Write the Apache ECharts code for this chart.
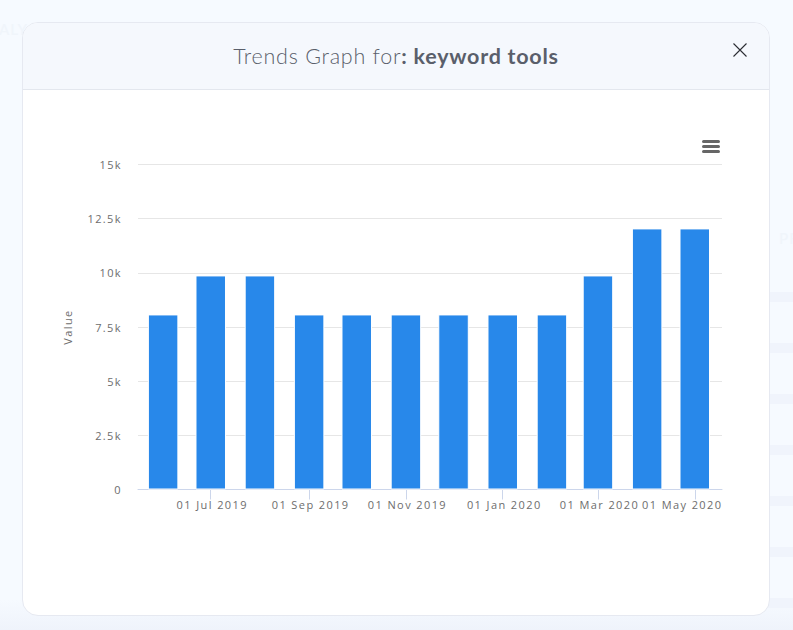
<!DOCTYPE html>
<html>
<head>
<meta charset="utf-8">
<title>Trends Graph</title>
<script src="https://cdn.jsdelivr.net/npm/echarts@6/dist/echarts.min.js"></script>
<style>
html, body { margin: 0; padding: 0; width: 793px; height: 630px; overflow: hidden; background: #f6faff; }
.bottom { position: absolute; left: 0; top: 600px; width: 793px; height: 30px; background: linear-gradient(#f6faff, #eff3fb); }
.pill { position: absolute; left: 760px; width: 40px; height: 10px; border-radius: 5px; background: #f0f4fc; }
.ghost { position: absolute; font: 600 15px Lato, sans-serif; letter-spacing: 1px; color: #f0f5fb; }
.card { position: absolute; left: 22px; top: 22px; width: 748px; height: 594px; box-sizing: border-box; background: #fff;
	border: 1px solid #e6e9f1; border-radius: 16px; overflow: hidden; }
.head { height: 67px; box-sizing: border-box; background: #f5f8fd; border-bottom: 1px solid #e3e7ee; text-align: center;
	font: 300 21.5px/67px Lato, sans-serif; letter-spacing: 0.75px; color: #5a5f6b; }
.head b { font-weight: 700; }
.close { position: absolute; left: 733px; top: 43px; }
#chart { position: absolute; left: 0; top: 0; width: 793px; height: 630px; }
#chart text { letter-spacing: 1.4px; }
</style>
</head>
<body>
<div class="bottom"></div>
<div class="ghost" style="left:-1px;top:20px">ALY</div>
<div class="ghost" style="left:779px;top:229px">PR</div>
<div class="pill" style="top:292px"></div>
<div class="pill" style="top:343px"></div>
<div class="pill" style="top:394px"></div>
<div class="pill" style="top:445px"></div>
<div class="pill" style="top:496px"></div>
<div class="pill" style="top:547px"></div>
<div class="pill" style="top:598px"></div>
<div class="card">
	<div class="head">Trends Graph for<b>: keyword tools</b></div>
</div>
<svg class="close" width="14" height="14" viewBox="0 0 14 14">
	<path d="M0.5 0.5L13.5 13.5M13.5 0.5L0.5 13.5" stroke="#2b2d33" stroke-width="1.1" fill="none"/>
</svg>
<div id="chart"></div>
<script>
var trend = [
	[new Date(2019, 5, 1), 8080],
	[new Date(2019, 6, 1), 9880],
	[new Date(2019, 7, 1), 9880],
	[new Date(2019, 8, 1), 8080],
	[new Date(2019, 9, 1), 8080],
	[new Date(2019, 10, 1), 8080],
	[new Date(2019, 11, 1), 8080],
	[new Date(2020, 0, 1), 8080],
	[new Date(2020, 1, 1), 8080],
	[new Date(2020, 2, 1), 9880],
	[new Date(2020, 3, 1), 12050],
	[new Date(2020, 4, 1), 12050]
];

var seriesData = trend.map(function (row) {
	return [row[0].getTime(), row[1]];
});

// labelled months, every second one
var tickDates = [];
for (var i = 1; i < trend.length; i += 2) {
	tickDates.push(trend[i][0].getTime());
}
var lastTick = tickDates[tickDates.length - 1];
var labelStyle = { fontFamily: "'Open Sans', sans-serif", fontSize: 11, color: "#6d6d6d" };

var chart = echarts.init(document.getElementById("chart"), null, { renderer: "svg" });

chart.setOption({
	animation: false,
	grid: { left: 138, right: 71, top: 164.5, bottom: 140.5 },
	// value axis on timestamps: the time axis fails on customValues
	xAxis: {
		type: "value",
		scale: true,
		min: new Date(2019, 4, 16, 4).getTime(),
		max: new Date(2020, 4, 18, 4).getTime(),
		splitLine: { show: false },
		axisLine: { lineStyle: { color: "#ccd6eb", width: 1 } },
		axisTick: { show: true, customValues: tickDates, length: 10, lineStyle: { color: "#ccd6eb" } },
		axisLabel: {
			customValues: tickDates,
			hideOverlap: false,
			margin: 9,
			fontFamily: labelStyle.fontFamily,
			fontSize: labelStyle.fontSize,
			color: labelStyle.color,
			formatter: function (value) {
				var text = echarts.time.format(value, "{dd} {MMM} {yyyy}");
				// last label is pulled back inside the plot
				return value === lastTick ? "{last|" + text + "}" : "{month|" + text + "}";
			},
			rich: {
				month: {
					fontFamily: labelStyle.fontFamily,
					fontSize: labelStyle.fontSize,
					color: labelStyle.color,
					padding: [0, 0, 0, 3]
				},
				last: {
					fontFamily: labelStyle.fontFamily,
					fontSize: labelStyle.fontSize,
					color: labelStyle.color,
					padding: [0, 25, 0, 0]
				}
			}
		}
	},
	yAxis: {
		type: "value",
		min: 0,
		max: 15000,
		interval: 2500,
		name: "Value",
		nameLocation: "middle",
		nameGap: 65,
		nameTextStyle: labelStyle,
		axisLine: { show: false },
		axisTick: { show: false },
		splitLine: { lineStyle: { color: "#e6e6e6", width: 1 } },
		axisLabel: {
			margin: 16,
			fontFamily: labelStyle.fontFamily,
			fontSize: labelStyle.fontSize,
			color: labelStyle.color,
			formatter: function (value) {
				return value === 0 ? "0" : value / 1000 + "k";
			}
		}
	},
	series: [{
		name: "Value",
		type: "bar",
		barWidth: 30.5,
		data: seriesData,
		itemStyle: { color: "#2888ea", borderColor: "#fff", borderWidth: 1 }
	}],
	graphic: [{
		type: "group",
		left: 702,
		top: 140,
		children: [0, 5, 10].map(function (y) {
			return {
				type: "rect",
				shape: { x: 0, y: y, width: 18, height: 3, r: 1.5 },
				style: { fill: "#666" }
			};
		})
	}]
});
</script>
</body>
</html>
